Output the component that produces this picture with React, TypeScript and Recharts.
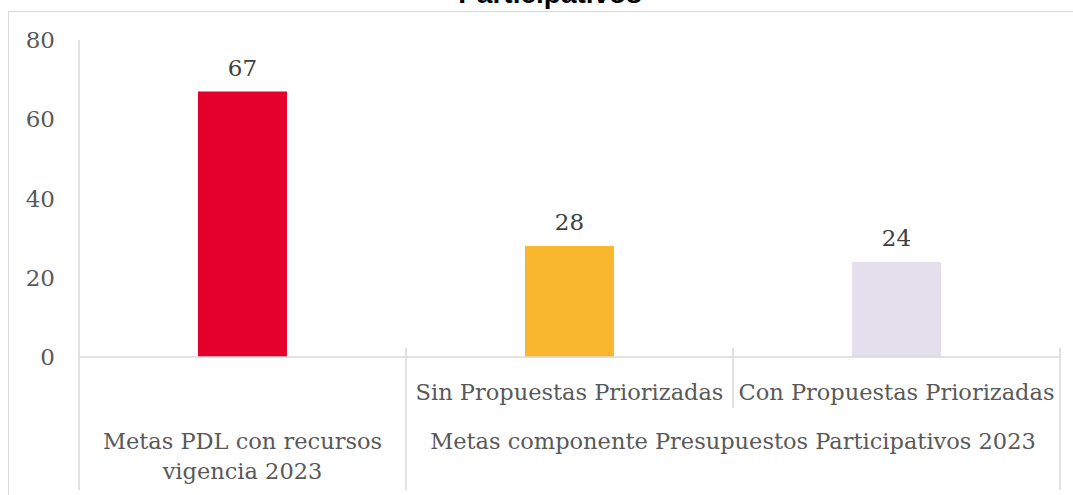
import React from 'react';
import { BarChart, Bar, XAxis, YAxis, Cell, LabelList } from 'recharts';

const categories = ['', 'Sin Propuestas Priorizadas', 'Con Propuestas Priorizadas'];
const groupLabels = ['Metas PDL con recursos|vigencia 2023', 'Metas componente Presupuestos Participativos 2023'];
const groupOf = [0, 1, 1];
const values = [67, 28, 24];
const colors = ['#E4002B', '#F9B72F', '#E4DFEC'];
const yTicks = [0, 20, 40, 60, 80];
const titleText = 'Participativos';

const W = 1073;
const H = 495;
const M = { top: 40, right: 13, bottom: 0, left: 0 };
const Y_W = 79;
const X_H = 138;
const STEP = (W - M.right - M.left - Y_W) / categories.length;
const FONT = '"DejaVu Serif", serif';
const TEXT = '#595959';
const LINE = '#D9D9D9';
const CAT_FS = 22.5;

const data = categories.map((c, i) => ({ id: 'c' + i, sub: c, value: values[i] }));

const XTick = (props: any) => {
  const { x, y, payload } = props;
  const i = payload.index;
  const left = x - STEP / 2;
  const right = x + STEP / 2;
  const g = groupOf[i];
  const isFirstOfGroup = i === 0 || groupOf[i - 1] !== g;
  const count = groupOf.filter((v) => v === g).length;
  const gx = x + ((count - 1) * STEP) / 2;
  const lines = groupLabels[g].split('|');
  const bottom = y + 133;
  return (
    <g>
      {i === 0 ? (
        <line x1={left} x2={left} y1={y} y2={bottom} stroke={LINE} strokeWidth={1.5} />
      ) : (
        <line x1={left} x2={left} y1={y - 9} y2={isFirstOfGroup ? bottom : y + 51} stroke={LINE} strokeWidth={1.5} />
      )}
      {i === categories.length - 1 && (
        <line x1={right} x2={right} y1={y - 9} y2={bottom} stroke={LINE} strokeWidth={1.5} />
      )}
      {categories[i] !== '' && (
        <text x={x} y={y + 43} textAnchor="middle" fill={TEXT} fontSize={CAT_FS} fontFamily={FONT}>
          {categories[i]}
        </text>
      )}
      {isFirstOfGroup &&
        lines.map((ln, k) => (
          <text key={k} x={gx} y={y + 92 + k * 30} textAnchor="middle" fill={TEXT} fontSize={CAT_FS} fontFamily={FONT}>
            {ln}
          </text>
        ))}
    </g>
  );
};

export default function App() {
  return (
    <div style={{ position: 'absolute', left: 0, top: 0, width: W, height: H, overflow: 'hidden', background: '#fff' }}>
      <div
        style={{
          position: 'absolute',
          left: 8,
          top: 11,
          width: W + 20,
          height: H + 20,
          borderLeft: `1.5px solid ${LINE}`,
          borderTop: `1.5px solid ${LINE}`,
        }}
      />
      <div
        style={{
          position: 'absolute',
          left: 0,
          width: 1100,
          top: -24,
          textAlign: 'center',
          fontFamily: '"Liberation Sans", sans-serif',
          fontWeight: 'bold',
          fontSize: 28,
          lineHeight: '36px',
          color: '#000',
        }}
      >
        {titleText}
      </div>
      <div style={{ position: 'absolute', left: 0, top: 0 }}>
        <BarChart width={W} height={H} data={data} margin={M}>
          <YAxis
            width={Y_W}
            domain={[0, 80]}
            ticks={yTicks}
            tickLine={false}
            tickSize={0}
            tickMargin={24}
            axisLine={{ stroke: LINE, strokeWidth: 1.5 }}
            tick={{ fill: TEXT, fontSize: 23, fontFamily: FONT }}
          />
          <XAxis
            dataKey="id"
            height={X_H}
            tickLine={false}
            tickSize={0}
            tickMargin={0}
            interval={0}
            axisLine={{ stroke: LINE, strokeWidth: 1.5 }}
            tick={<XTick />}
          />
          <Bar dataKey="value" barSize={89} isAnimationActive={false}>
            {data.map((d, i) => (
              <Cell key={d.id} fill={colors[i]} />
            ))}
            <LabelList dataKey="value" position="top" offset={16} fill="#404040" fontSize={23} fontFamily={FONT} />
          </Bar>
        </BarChart>
      </div>
    </div>
  );
}
